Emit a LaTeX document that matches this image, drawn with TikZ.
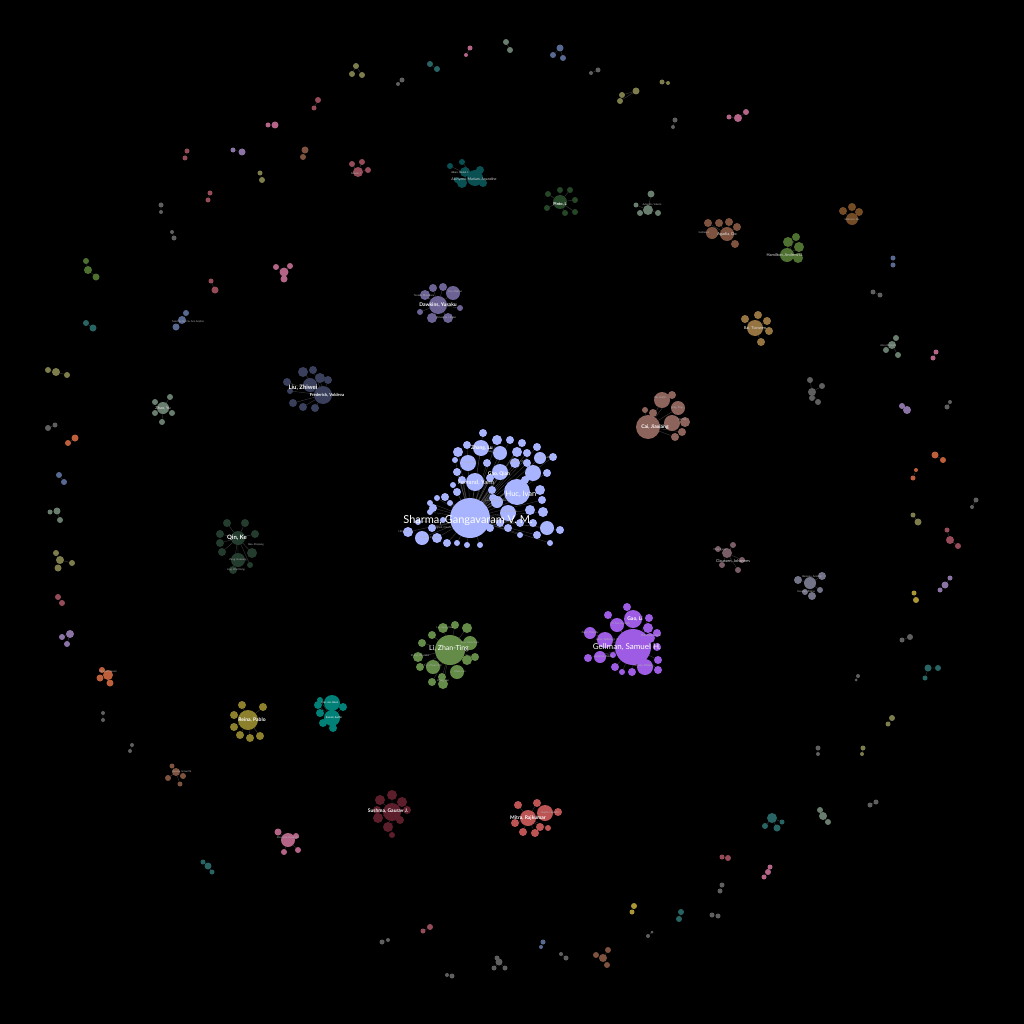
\documentclass[tikz,border=0pt]{standalone}
\usepackage{fontspec}
\setmainfont{Lato}
\pgfdeclarelayer{bg}
\pgfdeclarelayer{edges}
\pgfsetlayers{bg,edges,main}
\definecolor{cmain}{RGB}{168,180,255}
\definecolor{cgel}{RGB}{158,92,228}
\definecolor{cli}{RGB}{100,140,72}
\definecolor{cliu}{RGB}{58,64,92}
\definecolor{cdaw}{RGB}{108,98,148}
\definecolor{cqin}{RGB}{36,60,46}
\definecolor{ccai}{RGB}{140,100,92}
\definecolor{csus}{RGB}{92,30,42}
\definecolor{cmit}{RGB}{188,84,84}
\definecolor{crei}{RGB}{140,128,44}
\definecolor{ckam}{RGB}{0,128,118}
\definecolor{caki}{RGB}{10,80,82}
\definecolor{cpin}{RGB}{38,70,40}
\definecolor{pk}{RGB}{180,100,135}
\definecolor{rs}{RGB}{150,75,88}
\definecolor{mv}{RGB}{120,92,102}
\definecolor{ol}{RGB}{125,125,75}
\definecolor{gy}{RGB}{95,95,95}
\definecolor{gl}{RGB}{115,115,135}
\definecolor{tl}{RGB}{40,100,100}
\definecolor{sl}{RGB}{88,105,145}
\definecolor{br}{RGB}{125,82,62}
\definecolor{br2}{RGB}{115,76,38}
\definecolor{tan}{RGB}{150,116,66}
\definecolor{orr}{RGB}{190,95,60}
\definecolor{lv}{RGB}{140,115,165}
\definecolor{gr}{RGB}{78,112,48}
\definecolor{yl}{RGB}{170,150,55}
\definecolor{gg}{RGB}{105,125,110}
\definecolor{edgec}{RGB}{70,70,70}
\tikzset{
  bub/.style={circle,draw=none,inner sep=0pt,outer sep=0pt},
  edge/.style={draw=edgec,line width=0.3pt},
  big/.style={text=white,font=\fontsize{11}{11}\selectfont,inner sep=0pt},
  mid/.style={text=white,font=\fontsize{7.5}{7.5}\selectfont,inner sep=0pt},
  sml/.style={text=white,font=\bfseries\fontsize{5}{5}\selectfont,inner sep=0pt},
  lbl/.style={text=white!88!black,font=\fontsize{4}{4}\selectfont,inner sep=0pt},
  tiny/.style={text=white!70!black,font=\fontsize{2.6}{2.6}\selectfont,inner sep=0pt}
}
\gdef\alledges{}
% cluster: name, hub x, hub y, colour, hub radius, satellites x/y/r (absolute)
\newcommand\clus[6]{%
  \node[bub,fill=#4,minimum size=2*#5] (#1) at (#2,#3) {};
  \foreach \sx/\sy/\sr [count=\i] in {#6}{%
    \node[bub,fill=#4,minimum size=2*\sr] (#1-\i) at (\sx,\sy) {};
    \xdef\alledges{\alledges (#1) -- (#1-\i)}%
  }}
\begin{document}
\begin{tikzpicture}[x=1pt,y=-1pt]
\useasboundingbox (0,0) rectangle (1024,1024);
\begin{pgfonlayer}{bg}\fill[black] (0,0) rectangle (1024,1024);\end{pgfonlayer}
% ---------- main cluster ----------
\clus{sharma}{470}{518}{cmain}{20}{483/433/4,481/448/8,468/463/8,458/452/5,467/445/4,497/440/5,510/440/4,522/443/4,537/447/4,500/453/7,517/452/5,527/453/4,540/458/6,553/457/4,515/463/5,527/463/4,500/472/8,487/463/4,533/473/8,547/473/4,457/472/4,462/480/4,475/482/9,517/492/13,540/490/5,542/500/4,492/490/4,493/498/4,497/502/6,457/492/4,453/485/3,445/497/4,437/498/3,430/503/3,433/508/4,430/512/3,450/503/3,508/513/8,530/510/5,543/512/5,520/523/4,533/523/4,547/528/7,560/530/4,537/535/4,500/523/4,508/528/4,490/528/4,408/532/5,422/538/7,437/538/5,432/528/4,447/543/4,457/543/3,467/545/3,480/545/3,443/520/3,455/460/3,490/478/4,525/480/4,480/505/4,457/510/4,520/535/3,550/543/3,418/522/3}
\node[big] (sharma-l) at (468,520) {Sharma, Gangavaram V. M.};
\node[mid] (huc-l) at (521,494) {Huc, Ivan};
\node[text=white,font=\fontsize{6}{6}\selectfont,inner sep=0pt] (fer-l) at (476,483) {Ferrand, Yann};
\node[sml] (gao-l) at (499,474) {Gao, Qian};
\node[sml] (zha-l) at (482,448) {Zhang, Lu};
\node[tiny] at (470,463) {Wang, Ying};
\node[tiny] at (492,452) {Liang, Hu};
\node[tiny] at (545,458) {Cone, Geoff W.};
\node[tiny] at (517,462) {Stanford, Ma};
\node[tiny] at (497,501) {Lacombe, Guillaume};
\node[tiny] at (510,512) {Chanaudeau};
\node[tiny] at (443,528) {Pignoli, Claude};
\node[tiny] at (405,532) {Hill, Lorane};
\node[tiny] at (430,538) {Tourn\`es, Claudine};
% ---------- Gellman ----------
\clus{gell}{633}{647}{cgel}{18}{633/619/9,617/625/7,605/640/8,590/633/6,600/657/6,588/658/4,645/667/8,632/672/4,615/667/4,648/628/5,650/638/5,657/633/4,657/647/4,658/660/4,658/670/4,608/615/4,627/607/4,649/618/4,613/655/3,622/672/3}
\node[text=white,font=\fontsize{8}{8}\selectfont,inner sep=0pt] (gell-l) at (627,647) {Gellman, Samuel H.};
\node[sml] (gaoli-l) at (635,619) {Gao, Li};
\node[tiny] at (590,633) {Zaker, Timothy};
\node[tiny] at (607,640) {James, William H. III};
\node[tiny] at (620,624) {C.Y. Sun, Ramesh};
\node[tiny] at (651,636) {Mohamed, Hamid};
\node[tiny] at (604,657) {Seidman, Robert};
\node[tiny] at (643,666) {Kerusky, William};
% ---------- Li Zhan-Ting ----------
\clus{lizt}{450}{650}{cli}{15}{470/643/7,467/628/5,443/628/5,432/635/4,422/643/4,418/657/5,420/667/4,433/667/7,457/672/7,442/677/4,432/682/4,443/684/5,467/660/5,475/657/4,455/625/4}
\node[text=white,font=\fontsize{7}{7}\selectfont,inner sep=0pt] (lizt-l) at (449,649) {Li, Zhan-Ting};
\node[tiny] at (470,643) {Zhu, Yuan-Yuan};
\node[tiny] at (420,656) {Zhang, Dan-Wei};
\node[tiny] at (433,666) {Lin, Chuan-Zhi};
\node[tiny] at (460,672) {Chen, Lan};
\node[tiny] at (445,628) {Hu, Jiang, Xiao};
\node[tiny] at (443,681) {Wang, Hui};
% ---------- Liu Zhiwei ----------
\clus{liu}{323}{395}{cliu}{9}{310/385/7,303/372/5,313/370/4,320/378/5,328/380/4,287/382/4,293/403/4,303/407/4,315/408/4,290/391/3}
\node[sml,font=\bfseries\fontsize{6}{6}\selectfont] (liu-l) at (303,388) {Liu, Zhiwei};
\node[sml,font=\bfseries\fontsize{4.2}{4.2}\selectfont] (fre-l) at (327,395) {Frederick, Voldeva};
% ---------- Dawkins ----------
\clus{daw}{438}{305}{cdaw}{9}{453/293/7,425/295/5,433/288/4,443/287/4,432/318/5,448/318/5,420/312/3,460/308/3}
\node[sml] (daw-l) at (438,305) {Dawkins, Yusaku};
\node[tiny] at (455,292) {Cox, Makino};
\node[tiny] at (424,296) {Tanaka, Masakazu};
\node[tiny] at (446,318) {Yamashita, Hiroko};
% ---------- Qin ----------
\clus{qin}{238}{538}{cqin}{7}{227/523/4,245/523/4,255/534/4,220/534/4,220/543/4,222/552/4,252/553/5,238/560/7,233/570/4,250/565/3}
\node[sml,font=\bfseries\fontsize{6}{6}\selectfont] (qin-l) at (237,538) {Qin, Ke};
\node[tiny] at (238,560) {Zeng, Huasong};
\node[tiny] at (256,545) {Bao, Zhiqiang};
\node[tiny] at (236,570) {Ling, Wei Xiang};
% ---------- Cai ----------
\clus{cai}{648}{427}{ccai}{12}{662/400/8,672/395/4,678/408/7,672/423/8,685/422/5,682/432/4,675/437/4,653/413/4,645/410/3}
\node[sml] (cai-l) at (655,427) {Cai, Jiaxiang};
\node[tiny] at (660,398) {Wu, Hailin};
\node[tiny] at (677,408) {Teng, Ping};
\node[tiny] at (682,420) {Shi, Tao};
% ---------- Sushma ----------
\clus{sus}{392}{812}{csus}{9}{392/795/5,380/800/5,402/802/5,377/810/4,378/818/5,388/827/5,400/820/4,407/810/4,392/835/3}
\node[sml] (sus-l) at (388,811) {Sushma, Gaurav J.};
% ---------- Mitra ----------
\clus{mit}{528}{818}{cmit}{8}{545/813/8,518/805/4,537/803/4,558/812/4,515/823/4,523/832/4,535/833/4,540/827/4,548/828/3}
\node[sml] (mit-l) at (528,818) {Mitra, Rajkumar};
\node[tiny] at (550,813) {Gupta, Himadri};
% ---------- Reina ----------
\clus{rei}{248}{720}{crei}{10}{242/705/4,263/707/4,234/715/4,234/727/4,240/735/4,250/738/4,260/736/4}
\node[sml] (rei-l) at (252,720) {Reina, Pablo};
% ---------- Kamali ----------
\clus{kam}{332}{718}{ckam}{8}{332/703/8,320/713/4,318/705/4,343/707/4,323/723/4,333/728/4,320/700/3}
\node[tiny,text=white] (kim-l) at (330,703) {Kim, Jae-Hoon};
\node[tiny,text=white] (kam-l) at (334,718) {Kamali, Sudhir};
% ---------- Akinyemi ----------
\clus{aki}{475}{178}{caki}{8}{465/172/5,480/170/4,462/162/3,450/166/3,462/183/5,483/183/4,457/180/3}
\node[tiny,text=white!85!black] (aki1-l) at (460,173) {Aiken, Daniel J.};
\node[tiny,text=white!85!black,font=\fontsize{3.6}{3.6}\selectfont] (aki2-l) at (474,179) {Akinyemi, Mariam, Anandine};
% ---------- Pinto ----------
\clus{pin}{560}{202}{cpin}{7}{548/194/3,560/190/3,570/190/3,575/200/3,575/212/3,565/213/3,547/208/3}
\node[sml,font=\bfseries\fontsize{4}{4}\selectfont] (pin-l) at (560,204) {Pinto, L};
% ---------- peripheral clusters ----------
\clus{p1}{356}{66}{ol}{3}{352/74/3,362/75/3}
\clus{p2}{402}{80}{gy}{2.5}{398/84/2}
\clus{p3}{430}{64}{tl}{3}{437/69/3}
\clus{p4}{470}{48}{pk}{2.5}{466/55/2}
\clus{p5}{506}{42}{gg}{3}{510/50/3}
\clus{p6}{560}{48}{sl}{3.5}{553/55/3,563/58/3}
\clus{p7}{598}{70}{gy}{2.5}{591/73/2}
\clus{p8}{636}{91}{ol}{3.5}{622/95/3,620/101/3}
\clus{p9}{662}{82}{ol}{2.5}{668/83/2}
\clus{p10}{675}{120}{gy}{2.5}{673/127/2}
\clus{p11}{738}{118}{pk}{4}{746/112/3,729/117/2.5}
\clus{p12}{318}{100}{rs}{3}{314/108/2.5}
\clus{p13}{275}{125}{pk}{3.5}{268/125/2.5}
\clus{p14}{305}{150}{br}{3.5}{303/157/3}
\clus{p15}{242}{152}{lv}{3.5}{233/150/2.5}
\clus{p16}{187}{151}{rs}{2.5}{185/158/2.5}
\clus{p17}{262}{180}{ol}{3}{260/173/2.5}
\clus{p18}{210}{193}{rs}{2.5}{208/200/2.5}
\clus{p19}{161}{205}{gy}{2.5}{161/212/2}
\clus{p20}{174}{238}{gy}{2.5}{172/232/2}
\clus{p21}{88}{270}{gr}{4}{86/261/3,96/277/3.5}
\clus{p22}{93}{328}{tl}{3.5}{86/323/3}
\clus{p23}{182}{320}{sl}{4}{176/327/3.5,186/313/3}
\node[tiny] (p23-l) at (188,322) {Sanchez-Garcia, Ana Sophia};
\clus{p24}{215}{290}{rs}{3.5}{211/281/2.5}
\clus{p25}{284}{272}{pk}{4.5}{290/266/3,276/267/3,284/279/3.5}
\clus{p26}{358}{172}{rs}{5}{352/164/3,362/162/3,368/170/3}
\node[tiny] (p26-l) at (356,174) {Naeem, I};
\clus{p29}{648}{210}{gg}{5}{651/194/3.5,640/213/3,658/213/3,636/205/2.5}
\node[tiny] (p29-l) at (652,205) {Avlonitis, Valeria};
\clus{p30}{727}{234}{br}{7}{712/233/6,708/223/4,719/223/4,729/222/4,737/227/4,735/244/4}
\node[lbl] (p30-l) at (727,234) {Agadia, Do};
\node[tiny] at (704,233) {Gallmann};
\clus{p31}{787}{255}{gr}{7}{788/242/5,796/237/4,799/247/5,798/258/5}
\node[lbl] (p31-l) at (785,255) {Hamilton, Andrew D.};
\clus{p32}{852}{219}{br2}{6}{843/211/4,852/207/4,859/212/4}
\node[tiny] (p32-l) at (852,220) {Solomon, Ale};
\clus{p33}{893}{258}{sl}{2.5}{893/265/2.5}
\clus{p34}{873}{292}{gy}{2.5}{880/295/2.5}
\clus{p35}{755}{328}{tan}{8}{745/319/4,758/315/4,767/321/4,769/331/4,761/342/4}
\node[lbl] (p35-l) at (755,328) {Bai, Tianwen};
\clus{p36}{892}{345}{gg}{4}{896/338/3,886/350/3,898/355/3}
\node[tiny] (p36-l) at (888,346) {Alan, Ramesh};
\clus{p37}{933}{358}{pk}{2.5}{936/352/2.5}
\clus{p38}{812}{392}{gy}{4}{810/380/3,822/386/3,818/402/3,812/398/3}
\clus{p39}{907}{410}{lv}{4}{902/406/3}
\clus{p40}{947}{407}{gy}{2.5}{950/402/2}
\clus{p41}{935}{455}{orr}{3.5}{943/460/3}
\clus{p42}{913}{478}{orr}{2.5}{916/470/2}
\clus{p43}{976}{500}{gy}{2.5}{972/507/2}
\clus{p44}{918}{522}{ol}{3.5}{913/515/2.5}
\clus{p45}{950}{540}{rs}{4}{958/546/3,947/530/2.5}
\clus{p46}{945}{585}{lv}{3.5}{940/590/2.5,950/578/2.5}
\clus{p47}{916}{600}{yl}{3}{914/593/2.5}
\clus{p48}{910}{637}{gy}{3}{902/640/2.5}
\clus{p49}{928}{668}{tl}{3.5}{938/668/3,925/678/2.5}
\clus{p50}{892}{718}{ol}{3}{888/724/2.5}
\clus{p51}{858}{676}{gy}{2}{856/680/1.5}
\clus{p52}{818}{748}{gy}{2.5}{818/754/2}
\clus{p53}{863}{748}{ol}{2.5}{862/754/2}
\clus{p54}{870}{805}{gy}{2.5}{876/802/2.5}
\clus{p55}{823}{816}{gg}{4}{820/810/3,828/822/3}
\clus{p56}{772}{818}{tl}{5}{765/826/3,777/828/3.5,782/822/2.5}
\clus{p57}{768}{872}{pk}{3}{770/867/2.5,764/877/2.5}
\clus{p58}{728}{858}{rs}{3}{722/857/2.5}
\clus{p59}{722}{885}{gy}{2.5}{720/891/2.5}
\clus{p60}{712}{915}{gy}{2.5}{718/916/2.5}
\clus{p61}{681}{912}{tl}{3}{679/919/3}
\clus{p62}{648}{936}{gy}{2}{652/932/1.5}
\clus{p63}{634}{906}{yl}{3}{632/912/2.5}
\clus{p64}{603}{958}{br}{4}{608/950/3,596/955/3,607/965/3}
\clus{p65}{566}{958}{gy}{2.5}{561/954/2}
\clus{p66}{543}{942}{sl}{2.5}{541/947/2}
\clus{p67}{499}{962}{gy}{3.5}{494/968/2.5,505/968/2.5,497/958/2.5}
\clus{p68}{452}{976}{gy}{2.5}{447/975/2}
\clus{p69}{430}{927}{rs}{3}{423/931/2.5}
\clus{p70}{382}{942}{gy}{2.5}{388/940/2}
\clus{p71}{288}{840}{pk}{7}{278/832/3.5,298/850/3,284/852/3,296/836/3}
\node[tiny] (p71-l) at (288,838) {Stancioiu, Ruxandra};
\clus{p72}{208}{866}{tl}{3.5}{203/862/2.5,212/872/2.5}
\clus{p73}{176}{772}{br}{4}{168/778/3,183/776/3,172/766/2.5,180/784/2.5}
\node[tiny] (p73-l) at (182,772) {Naveta, Ismael N.};
\clus{p74}{132}{745}{gy}{2}{130/751/2}
\clus{p75}{103}{713}{gy}{2}{103/720/2}
\clus{p76}{108}{675}{orr}{5}{100/678/3.5,110/683/3.5,102/670/3}
\node[tiny] (p76-l) at (108,672) {Pannier, Daniel};
\clus{p77}{70}{634}{lv}{4}{62/637/3,67/644/3}
\clus{p78}{58}{597}{rs}{3}{62/603/3}
\clus{p79}{60}{560}{ol}{4}{56/553/3,72/563/3,58/568/3.5}
\clus{p80}{59}{475}{sl}{3}{64/482/3}
\clus{p81}{57}{511}{gg}{3.5}{60/520/3,50/512/2.5}
\clus{p82}{48}{428}{gy}{3}{55/425/2.5}
\clus{p83}{75}{438}{orr}{3.5}{68/443/3}
\clus{p84}{56}{372}{ol}{4}{48/370/3,67/375/3}
\clus{p85}{163}{408}{gg}{6}{155/402/3,170/397/3,162/422/3,155/413/3,172/413/3}
\node[lbl] (p85-l) at (163,408) {Zhao, Yu};
\clus{p86}{727}{553}{mv}{5}{733/545/3,742/560/3,722/565/3,738/570/3,718/549/3}
\node[lbl] (p86-l) at (733,561) {Claussen, Johannes};
\node[tiny] (p86-l2) at (720,550) {Pilat, Sarah};
\clus{p87}{810}{583}{gl}{6}{798/580/4,822/576/4,812/596/4,820/590/3,805/592/3}
\node[tiny] (p87-l) at (806,592) {Vasudev, Prema};
\node[tiny] (p87-l2) at (812,577) {Baranov, Anatoly};
\begin{pgfonlayer}{edges}\draw[edge] \alledges;\end{pgfonlayer}
\end{tikzpicture}
\end{document}
